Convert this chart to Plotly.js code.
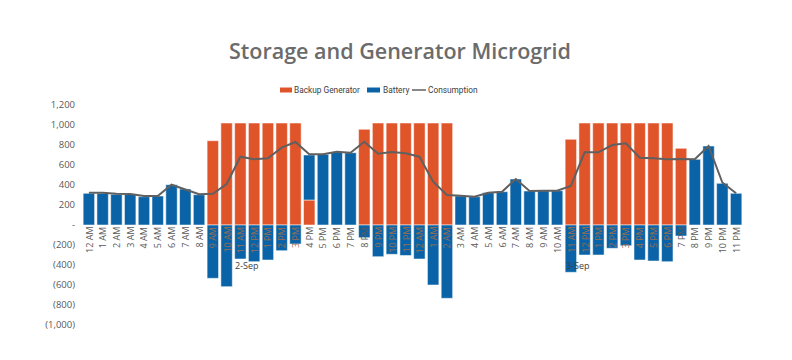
<!DOCTYPE html>
<html>
<head>
<meta charset="utf-8">
<script src="https://cdn.plot.ly/plotly-3.0.1.min.js"></script>
<style>html,body{margin:0;padding:0;background:#fff}#chart{width:792px;height:360px}</style>
</head>
<body>
<div id="chart"></div>
<script>
const hourLabels = ["12 AM","1 AM","2 AM","3 AM","4 AM","5 AM","6 AM","7 AM","8 AM","9 AM","10 AM","11 AM",
  "12 PM","1 PM","2 PM","3 PM","4 PM","5 PM","6 PM","7 PM","8 PM","9 PM","10 PM","11 PM"];
const categories = hourLabels.concat(hourLabels);
const dayLabels = ["2-Sep","3-Sep"];

const generator = [
  null,null,null,null,null,null,null,null,null,843,1020,1020,
  1020,1020,1020,1020,250,null,null,null,957,1020,1020,1020,
  1020,1020,1020,null,null,null,null,null,null,null,null,857,
  1020,1020,1020,1020,1020,1020,1020,767,null,null,null,null
];
const battery = [
  317,317,307,307,283,290,403,360,303,-533,-617,-340,
  -367,-350,-257,-190,450,707,727,723,-127,-317,-293,-305,
  -340,-600,-733,290,283,323,333,460,340,343,343,-473,
  -300,-300,-233,-207,-350,-360,-367,-110,657,790,417,317
];
const consumption = [
  323,323,313,310,290,290,403,357,307,313,410,683,
  657,667,773,830,707,707,733,723,833,713,730,717,
  683,433,300,293,283,323,333,460,340,343,343,390,
  727,727,800,817,673,667,657,660,657,790,425,317
];
const yTickVals = [1200,1000,800,600,400,200,0,-200,-400,-600,-800,-1000];
const yTickText = ["1,200","1,000","800","600","400","200","-","(200)","(400)","(600)","(800)","(1,000)"];
const seriesNames = ["Backup Generator","Battery","Consumption"];

const xIdx = categories.map((_, i) => i);
const gray = '#595959';
const colors = ['#E0542A', '#0A63A6', '#606060'];

const traces = [
  {type:'bar', name:seriesNames[0], x:xIdx, y:generator,
   marker:{color:colors[0], line:{color:'rgba(255,255,255,0.5)', width:1}}},
  {type:'bar', name:seriesNames[1], x:xIdx, y:battery,
   marker:{color:colors[1], line:{color:'rgba(255,255,255,0.5)', width:1}}},
  {type:'scatter', mode:'lines', name:seriesNames[2], x:xIdx, y:consumption,
   line:{color:colors[2], width:2}}
];

// plot area geometry (pixels) for the hand-made legend
const L = 82, T = 105, W = 661, H = 220;
const px = v => (v - L) / W;
const py = v => (T + H - v) / H;

const legendItems = [
  {sx0:280, sx1:292, tx:293, kind:'bar'},
  {sx0:367, sx1:380, tx:382, kind:'bar'},
  {sx0:412, sx1:426, tx:427, kind:'line'}
];
const legendY = 90;

const shapes = legendItems.map((it, k) => it.kind === 'bar'
  ? {type:'rect', xref:'paper', yref:'paper', x0:px(it.sx0), x1:px(it.sx1), y0:py(legendY+2.5), y1:py(legendY-2.5),
     fillcolor:colors[k], line:{width:0}}
  : {type:'line', xref:'paper', yref:'paper', x0:px(it.sx0), x1:px(it.sx1), y0:py(legendY), y1:py(legendY),
     line:{color:colors[k], width:1.5}});

const annotations = [];
legendItems.forEach((it, k) => annotations.push({
  text:seriesNames[k], xref:'paper', yref:'paper', x:px(it.tx), y:py(legendY),
  xanchor:'left', yanchor:'middle', showarrow:false, borderpad:0,
  font:{size:8.3, color:'#404040', family:'Roboto, sans-serif'}
}));
categories.forEach((c, i) => annotations.push({
  text:c, x:i, y:0, xref:'x', yref:'y', showarrow:false, textangle:-90,
  xanchor:'center', yanchor:'top', yshift:-1, borderpad:0,
  font:{size:9, color: battery[i] < -150 ? '#9A6E4E' : gray}
}));
dayLabels.forEach((d, k) => annotations.push({
  text:d, x:11.5 + 24*k, y:-400, xref:'x', yref:'y', showarrow:false,
  font:{size:9, color:'#404040'}, xanchor:'center', yanchor:'middle'
}));

const layout = {
  width:792, height:360,
  margin:{l:L, r:792-L-W, t:T, b:360-T-H, autoexpand:false},
  paper_bgcolor:'#fff', plot_bgcolor:'rgba(0,0,0,0)',
  font:{family:'"Open Sans", sans-serif', color:gray, size:9},
  title:{text:'Storage and Generator Microgrid', xref:'container', x:0.505, xanchor:'center',
         yref:'container', y:0.858, yanchor:'middle',
         font:{family:'"Open Sans", sans-serif', size:21.5, color:'#6b6b6b', weight:600}},
  barmode:'relative', bargap:0.17,
  showlegend:false,
  xaxis:{range:[-0.5,47.5], showticklabels:false, showgrid:false, zeroline:false, showline:false,
         automargin:false, ticks:''},
  yaxis:{range:[-1000,1200], tickmode:'array', tickvals:yTickVals, ticktext:yTickText,
         automargin:false, showgrid:false, zeroline:false, showline:false, ticks:'',
         ticklabelstandoff:6, tickfont:{size:9.5, color:gray}, domain:[0,1]},
  shapes: shapes,
  annotations: annotations
};

Plotly.newPlot('chart', traces, layout, {displayModeBar:false, staticPlot:true});
</script>
</body>
</html>
